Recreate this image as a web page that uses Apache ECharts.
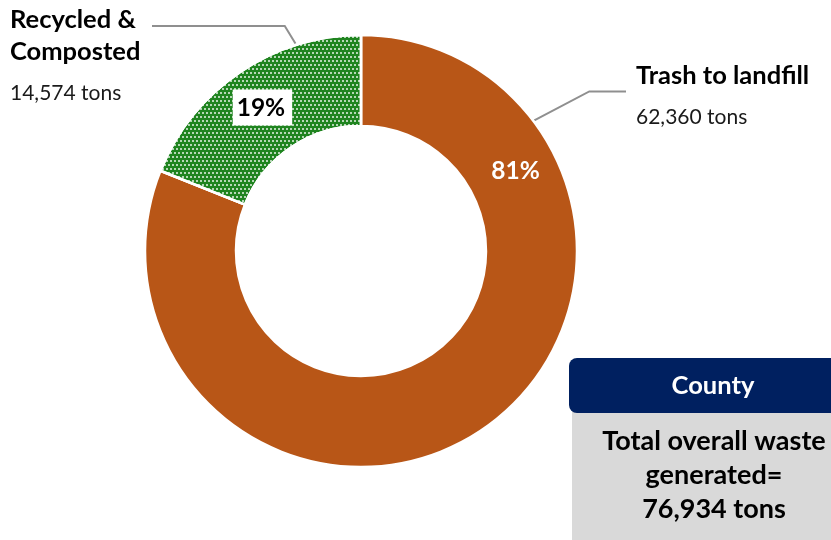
<!DOCTYPE html>
<html>
<head>
<meta charset="utf-8">
<script src="https://cdn.jsdelivr.net/npm/echarts@6/dist/echarts.min.js"></script>
<style>
  html, body { margin: 0; padding: 0; background: #ffffff; }
  #chart { width: 831px; height: 540px; }
</style>
</head>
<body>
<div id="chart"></div>
<script>
// Waste stream breakdown, in tons
const categories = ['Trash to landfill', 'Recycled &\nComposted'];
const tons = [62360, 14574];
const boxTitle = 'County';
const totalCaption = ['Total overall waste', 'generated='];

const FONT = 'Lato, "Noto Sans", sans-serif';
const sliceColors = ['#B85617', '#1F841F'];

// Donut geometry (pixels)
const CX = 361, CY = 251, R_IN = 125, R_OUT = 216;

// Where each outside label sits and how its leader line bends
const nameLabels = [
  { x: 636, y: 60, angle: 53, elbow: [55, -29], lineEnd: 626 },
  { x: 10, y: 4, angle: -17.5, elbow: [-11, -18], lineEnd: 152 }
];
// Angle (clockwise from 12 o'clock) of each percentage label on the ring
const pctAngles = [62.7, -34.5];
const PCT_R = 174;

function polar(angleDeg, r) {
  const a = angleDeg * Math.PI / 180;
  return [CX + r * Math.sin(a), CY - r * Math.cos(a)];
}

const total = tons.reduce((s, v) => s + v, 0);
const fmt = v => v.toLocaleString('en-US');

const data = categories.map((name, i) => ({ name: name, value: tons[i] }));

const chart = echarts.init(document.getElementById('chart'), null, { renderer: 'canvas' });

chart.setOption({
  backgroundColor: '#ffffff',
  animation: false,
  series: [
    {
      type: 'pie',
      center: [CX, CY],
      radius: [R_IN, R_OUT],
      startAngle: 90,
      clockwise: true,
      silent: true,
      data: data.map((d, i) => ({
        name: d.name,
        value: d.value,
        itemStyle: i === 1 ? {
          color: sliceColors[i],
          decal: {
            symbol: 'circle',
            symbolSize: 1,
            color: 'rgba(255,255,255,0.9)',
            dashArrayX: [[2, 2], [0, 2, 2, 0]],
            dashArrayY: [2, 1.5],
            rotation: 0
          }
        } : { color: sliceColors[i] }
      })),
      itemStyle: { borderColor: '#ffffff', borderWidth: 2.5 },
      label: {
        show: true,
        position: 'outside',
        fontFamily: FONT,
        formatter: p => p.name.split('\n').map(l => '{name|' + l + '}').join('\n') +
          '\n{val|' + fmt(p.value) + ' tons}',
        rich: {
          name: { fontFamily: FONT, fontWeight: 'bold', fontSize: 25.5, lineHeight: 32, color: '#000000' },
          val: { fontFamily: FONT, fontSize: 21, lineHeight: 50, color: '#1a1a1a' }
        }
      },
      labelLine: {
        show: true,
        lineStyle: { color: '#8F8F8F', width: 2 }
      },
      labelLayout: p => {
        const L = nameLabels[p.dataIndex];
        const start = polar(L.angle, R_OUT + 1);
        const elbow = [start[0] + L.elbow[0], start[1] + L.elbow[1]];
        const end = [L.lineEnd, elbow[1]];
        return {
          x: L.x, y: L.y, align: 'left', verticalAlign: 'top',
          labelLinePoints: [start, elbow, end]
        };
      }
    },
    {
      type: 'pie',
      center: [CX, CY],
      radius: [R_IN, R_OUT],
      startAngle: 90,
      clockwise: true,
      silent: true,
      itemStyle: { color: 'rgba(0,0,0,0)', borderWidth: 0 },
      labelLine: { show: false },
      label: {
        show: true,
        position: 'inside',
        fontFamily: FONT,
        fontWeight: 'bold',
        fontSize: 24.5,
        formatter: p => Math.round(p.percent) + '%'
      },
      data: data.map((d, i) => ({
        name: d.name,
        value: d.value,
        label: i === 0
          ? { color: '#ffffff' }
          : { color: '#000000', backgroundColor: '#ffffff', padding: [6, 7, 5, 4] }
      })),
      labelLayout: p => {
        const pt = polar(pctAngles[p.dataIndex], PCT_R);
        return { x: pt[0], y: pt[1], align: 'center', verticalAlign: 'middle' };
      }
    }
  ],
  graphic: [
    {
      type: 'rect',
      shape: { x: 572, y: 405, width: 265, height: 140 },
      style: { fill: '#D9D9D9' }
    },
    {
      type: 'rect',
      shape: { x: 569, y: 358, width: 275, height: 55, r: 8 },
      style: { fill: '#002060' }
    },
    {
      type: 'text',
      x: 713, y: 386,
      style: {
        text: boxTitle, fill: '#ffffff',
        font: 'bold 25.5px ' + FONT,
        align: 'center', verticalAlign: 'middle',
        textAlign: 'center', textVerticalAlign: 'middle'
      }
    },
    {
      type: 'text',
      x: 714, y: 475,
      style: {
        text: totalCaption.concat([fmt(total) + ' tons']).join('\n'),
        fill: '#000000',
        font: 'bold 27px ' + FONT,
        lineHeight: 34,
        align: 'center', verticalAlign: 'middle',
        textAlign: 'center', textVerticalAlign: 'middle'
      }
    }
  ]
});
</script>
</body>
</html>
